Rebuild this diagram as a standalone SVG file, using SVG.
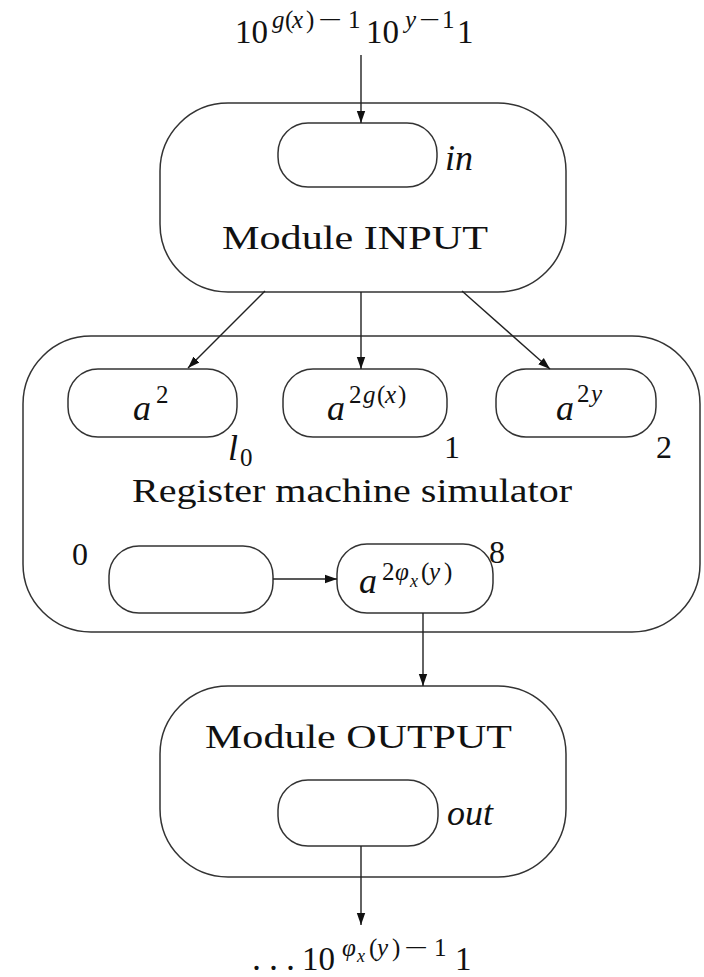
<svg xmlns="http://www.w3.org/2000/svg" width="704" height="977" viewBox="0 0 704 977">
<style>
text{font-family:'Liberation Serif','Times New Roman',Tinos,'Noto Serif','DejaVu Serif',Times,serif;fill:#111}
.it{font-style:italic}
.big{font-size:36px}
.num{font-size:33px}
.sup{font-size:25px}
.sub{font-size:18px}
.lab{font-size:34px}
.dig{font-size:32px}
.box{fill:#fff;stroke:#333;stroke-width:1.5}
.con{stroke:#222;stroke-width:1.4;fill:none;marker-end:url(#ah)}
</style>
<defs>
<marker id="ah" markerUnits="userSpaceOnUse" markerWidth="14" markerHeight="10" refX="12" refY="5" orient="auto">
<path d="M0,0.8 L12,5 L0,9.2 z" fill="#111"/>
</marker>
</defs>
<rect width="704" height="977" fill="#fff"/>

<g id="input-string">
<text class="num" x="235" y="43">10</text>
<text class="sup it" x="272" y="28">g</text>
<text class="sup" x="285" y="28">(</text>
<text class="sup it" x="292" y="28">x</text>
<text class="sup" x="306" y="28">)</text>
<text class="sup" x="318" y="28" textLength="24" lengthAdjust="spacingAndGlyphs">−</text>
<text class="sup" x="348" y="28">1</text>
<text class="num" x="366" y="43">10</text>
<text class="sup it" x="405" y="28">y</text>
<text class="sup" x="419" y="28" textLength="21" lengthAdjust="spacingAndGlyphs">−</text>
<text class="sup" x="442" y="28">1</text>
<text class="num" x="457" y="43">1</text>
</g>

<g id="module-input">
<rect class="box" x="160" y="103" width="406" height="189" rx="68"/>
<text class="lab" x="222" y="249" textLength="266" lengthAdjust="spacingAndGlyphs">Module INPUT</text>
</g>
<g id="reg-in">
<rect class="box" x="278" y="123" width="159" height="64" rx="30"/>
<text class="big it" x="445" y="170">in</text>
</g>

<g id="register-machine">
<rect class="box" x="23" y="336" width="677" height="296" rx="68"/>
<text class="lab" x="132" y="502" textLength="440" lengthAdjust="spacingAndGlyphs">Register machine simulator</text>
</g>
<g id="reg-l0">
<rect class="box" x="68" y="369" width="169" height="68" rx="30"/>
<text class="big it" x="133" y="420">a</text>
<text class="sup" x="156" y="403">2</text>
<text class="big it" x="228" y="460">l</text>
<text class="sup" x="240" y="466">0</text>
</g>
<g id="reg-1">
<rect class="box" x="283" y="369" width="164" height="68" rx="30"/>
<text class="big it" x="327" y="420">a</text>
<text class="sup" x="349" y="403">2</text>
<text class="sup it" x="363" y="403">g</text>
<text class="sup" x="377" y="403">(</text>
<text class="sup it" x="385" y="403">x</text>
<text class="sup" x="398" y="403">)</text>
<text class="dig" x="444" y="458">1</text>
</g>
<g id="reg-2">
<rect class="box" x="496" y="369" width="160" height="68" rx="30"/>
<text class="big it" x="556" y="420">a</text>
<text class="sup" x="577" y="402">2</text>
<text class="sup it" x="591" y="402">y</text>
<text class="dig" x="656" y="458">2</text>
</g>
<g id="reg-0">
<rect class="box" x="109" y="546" width="164" height="67" rx="30"/>
<text class="dig" x="72" y="565">0</text>
</g>
<g id="reg-8">
<rect class="box" x="337" y="544" width="156" height="69" rx="30"/>
<text class="big it" x="359" y="593">a</text>
<text class="sup" x="382" y="580">2</text>
<text class="sup it" x="395" y="580">φ</text>
<text class="sub it" x="410" y="587">x</text>
<text class="sup" x="421" y="580">(</text>
<text class="sup it" x="429" y="580">y</text>
<text class="sup" x="444" y="580">)</text>
<text class="dig" x="489" y="563">8</text>
</g>

<g id="module-output">
<rect class="box" x="160" y="686" width="406" height="191" rx="68"/>
<text class="lab" x="205" y="748" textLength="307" lengthAdjust="spacingAndGlyphs">Module OUTPUT</text>
</g>
<g id="reg-out">
<rect class="box" x="278" y="780" width="160" height="66" rx="30"/>
<text class="big it" x="447" y="825">out</text>
</g>

<g id="output-string">
<text class="big" x="252" y="970">.</text>
<text class="big" x="269" y="970">.</text>
<text class="big" x="286" y="970">.</text>
<text class="num" x="302" y="970">10</text>
<text class="sup it" x="342" y="956">φ</text>
<text class="sub it" x="357" y="962">x</text>
<text class="sup" x="369" y="956">(</text>
<text class="sup it" x="377" y="956">y</text>
<text class="sup" x="392" y="956">)</text>
<text class="sup" x="404" y="956" textLength="24" lengthAdjust="spacingAndGlyphs">−</text>
<text class="sup" x="434" y="956">1</text>
<text class="num" x="455" y="970">1</text>
</g>

<g id="connectors">
<line class="con" x1="361" y1="55" x2="361" y2="123"/>
<line class="con" x1="265" y1="291" x2="188" y2="368"/>
<line class="con" x1="361" y1="292" x2="361" y2="369"/>
<line class="con" x1="462" y1="291" x2="550" y2="369"/>
<line class="con" x1="273" y1="579" x2="337" y2="579"/>
<line class="con" x1="423" y1="613" x2="423" y2="686"/>
<line class="con" x1="361" y1="846" x2="361" y2="925"/>
</g>
</svg>
